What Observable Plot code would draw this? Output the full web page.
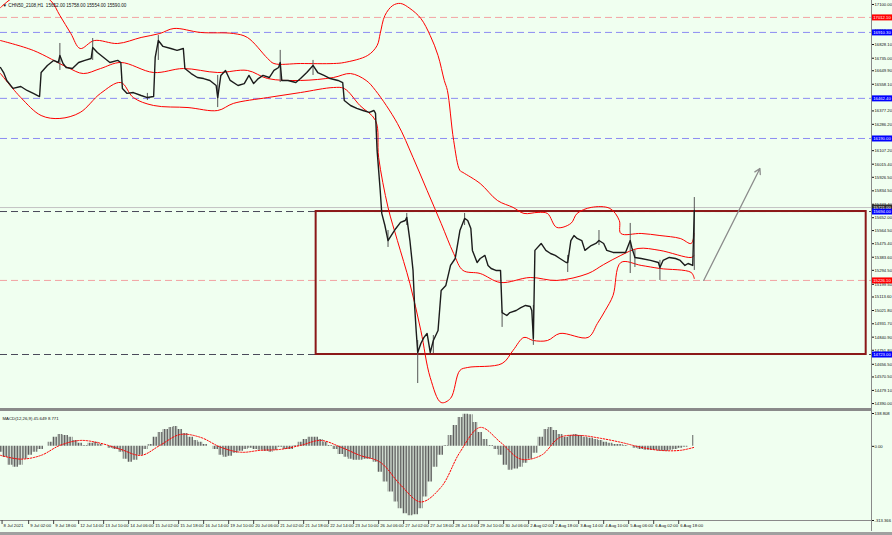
<!DOCTYPE html>
<html><head><meta charset="utf-8">
<script src="https://cdn.jsdelivr.net/npm/d3@7"></script>
<script src="https://cdn.jsdelivr.net/npm/@observablehq/plot@0.6"></script>
<style>
html,body{margin:0;padding:0;background:#f0fff0;}
#chart{position:relative;width:892px;height:535px;overflow:hidden;background:#f0fff0;font-family:"Liberation Sans",Arial,sans-serif;}
#chart svg{position:absolute;left:0;}
.vline{position:absolute;left:871px;top:0;width:1px;height:531px;background:#8a8a8a;}
.sep{position:absolute;left:0;top:408px;width:872px;height:3px;background:#8a8a8a;}
.bottomline{position:absolute;left:0;top:532px;width:892px;height:3px;background:#a0a0a0;}
</style></head><body><div id="chart"><div class="vline"></div><div class="sep"></div><div class="bottomline"></div></div>
<script>
// ---------- data ----------
const symbolTitle = "\u25BC CHN50_2108,H1  15652.00 15758.00 15554.00 15590.00";
const macdTitle = "MACD(12,26,9) 45.649 8.771";

const priceBar = [0,2,4,8,13,17,21,25,26,30,34,37,38,40,42,46,50,54,58,59,62,66,70,75,77,78,81,85,90,94,98,99,101,104,109,113,117,118,122,126,130,134,138,139,141,144,147,152,156,159,162,165,168,172,175,178,179,180,184,189,192,196,200,203,207,211,216,219,220,224,228,232,236,239,240,241,243,244,246,248,250,253,256,259,260,262,264,265,266,267,269,271,273,275,277,280,282,285,288,291,294,297,299,301,302,305,307,310,312,314,317,320,321,324,326,330,333,336,339,340,341,342,346,349,352,355,358,362,363,365,367,369,372,374,378,381,383,386,388,392,396,400,403,404,406,410,416,421,422,424,428,432,435,438,440,443,444];
const priceClose = [16672,16638,16584,16530,16543,16516,16496,16475,16638,16686,16720,16706,16754,16699,16672,16665,16706,16720,16733,16808,16774,16740,16706,16720,16706,16530,16496,16502,16482,16468,16475,16740,16855,16815,16801,16788,16801,16665,16631,16604,16597,16584,16550,16468,16618,16652,16584,16550,16563,16618,16563,16597,16618,16604,16652,16672,16706,16584,16584,16570,16597,16638,16686,16638,16618,16597,16584,16570,16448,16414,16394,16380,16367,16380,16360,16109,15837,15681,15599,15497,15531,15579,15620,15633,15654,15497,15294,15056,14886,14737,14798,14839,14866,14737,14818,14886,15158,15192,15328,15375,15565,15647,15633,15579,15430,15348,15375,15396,15328,15307,15294,15294,15008,14988,15008,15022,15042,15056,15049,15022,14832,15430,15477,15430,15409,15396,15375,15348,15348,15497,15531,15511,15497,15430,15463,15477,15497,15477,15430,15416,15416,15416,15497,15450,15382,15375,15362,15348,15314,15362,15382,15375,15362,15328,15341,15328,15701];

const wickBar  = [38,59,94,101,139,179,200,248,260,267,277,297,321,341,363,383,403,406,422,444];
const wickHigh = [16835,16869,16496,16889,16618,16788,16720,15565,15681,14818,14852,15681,15022,15056,15396,15565,15613,15430,15362,15789];
const wickLow  = [16652,16720,16448,16720,16400,16570,16618,15450,15599,14526,14730,15599,14907,14785,15280,15463,15273,15314,15226,15294];

const upperBar  = [0,8,19,32,38,45,51,60,75,90,102,111,128,149,158,171,175,192,213,220,235,241,243,246,251,256,262,269,275,280,284,286,290,294,296,307,318,328,335,344,350,356,365,369,378,390,396,397,410,422,435,442,444];
const upperBand = [17079,17147,17195,17127,17025,16903,16801,16855,16835,16876,16903,16937,16910,16903,16876,16733,16699,16699,16699,16706,16754,16821,16903,17025,17093,17107,17073,17005,16889,16754,16584,16516,16176,15973,15959,15884,15769,15722,15681,15688,15681,15586,15613,15681,15722,15715,15633,15545,15545,15531,15511,15477,15545];
const middleBar  = [0,21,43,53,64,77,98,117,139,158,171,192,213,224,234,240,254,264,273,282,290,296,307,320,339,356,376,386,397,408,422,442,444];
const middleBand = [16855,16788,16672,16631,16665,16706,16638,16665,16638,16652,16597,16584,16604,16631,16584,16516,16292,16061,15837,15613,15409,15294,15273,15212,15246,15226,15273,15334,15396,15443,15430,15382,15396];
const lowerBar  = [0,13,26,38,51,64,77,85,98,120,139,149,171,192,213,220,230,240,242,248,254,262,269,275,282,288,294,299,321,328,335,341,350,358,376,382,387,392,397,410,422,442,444];
const lowerBand = [16631,16468,16346,16326,16367,16496,16570,16468,16414,16400,16380,16428,16468,16502,16536,16529,16414,16312,16061,15722,15497,15205,14886,14567,14397,14425,14615,14635,14662,14751,14839,14818,14818,14866,14839,14934,15022,15124,15348,15328,15307,15280,15239];

const priceTicks = [17100.00,17009.50,16919.00,16828.10,16735.00,16649.90,16558.10,16466.50,16377.20,16286.20,16196.30,16107.20,16015.40,15926.50,15834.50,15743.40,15652.00,15564.50,15475.40,15383.60,15294.50,15199.50,15113.60,15021.80,14931.70,14840.90,14751.80,14656.50,14570.50,14479.10,14390.00];

const redLevels  = [17012.1, 15226.1];
const blueLevels = [16910.3, 16462.4, 16190.0];
const zoneLevels = [15694.0, 14723.0];
const bidPrice   = 15721.0;
const labelPrices = [17012.1, 16910.3, 16462.4, 16190.0, 15721.0, 15694.0, 15226.1, 14723.0];
const labelKinds  = ["red","blue","blue","blue","bid","blue","red","blue"];

const zoneFromBar = 202, zoneToBar = 554, zoneLow = 14723.0, zoneHigh = 15694.0;
const arrowBars = [450, 486];
const arrowPrices = [15226, 15986];

const macdBar = [0,3,6,10,13,16,19,22,26,29,32,35,38,42,45,48,51,54,58,61,64,67,70,74,77,80,83,86,90,93,96,99,102,106,109,112,115,118,122,125,128,131,134,138,141,144,147,150,154,157,160,163,166,170,173,176,179,182,186,189,192,195,198,202,205,208,211,214,218,221,224,227,230,234,237,240,243,246,250,253,256,259,262,266,269,272,275,278,282,285,288,291,294,298,301,304,307,310,314,317,320,323,326,330,333,336,339,342,346,349,352,355,358,362,365,368,371,374,378,381,384,387,390,394,397,400,403,406,410,413,416,419,422,426,429,432,435,438,442,444];
const macdHist = [-25,-46,-80,-88,-80,-54,-38,-25,-13,0,
17,38,50,46,38,25,13,4,13,17,
8,0,-8,-13,-25,-54,-67,-59,-38,-13,
8,38,59,71,80,84,71,54,38,25,
17,8,0,-13,-38,-46,-42,-29,-21,-13,
-8,-13,-17,-21,-25,-17,-4,-13,-13,4,
17,29,38,38,29,17,4,-13,-34,-46,
-54,-59,-59,-54,-54,-67,-109,-151,-193,-235,
-264,-285,-293,-289,-264,-214,-151,-88,-38,4,
46,88,122,136,134,101,59,29,4,-13,
-38,-80,-101,-96,-88,-71,-54,-29,38,71,
80,67,50,38,46,50,46,38,34,29,
25,17,13,8,8,4,0,-8,-13,-17,
-17,-17,-21,-21,-17,-13,-8,-4,0,46];
const signalBar = [0,13,26,38,51,64,77,90,102,115,128,141,154,166,179,192,205,218,230,243,256,269,282,294,307,320,333,346,358,371,384,397,410,422,435,444];
const signalValue = [-38,-54,-38,4,25,13,-13,-38,4,50,38,-4,-25,-17,-13,4,25,-4,-38,-67,-163,-235,-172,-25,80,17,-54,-38,38,46,34,17,-4,-17,-17,-4];
const macdTicks = [138.808, 0, -313.366];
const macdTickText = ["138.808", "0.00", "-313.366"];

const dateBar = [1,18,34,50,66,82,98,114,130,146,162,178,194,210,226,242,258,274,290,306,322,338,354,370,386,402,418,434];
const dateLabel = ["8 Jul 2021","9 Jul 02:00","9 Jul 18:00","12 Jul 14:00","13 Jul 10:00","14 Jul 06:00","15 Jul 02:00","15 Jul 18:00","16 Jul 14:00","19 Jul 10:00","20 Jul 06:00","21 Jul 02:00","21 Jul 18:00","22 Jul 14:00","23 Jul 10:00","26 Jul 06:00","27 Jul 02:00","27 Jul 18:00","28 Jul 14:00","29 Jul 10:00","30 Jul 06:00","2 Aug 02:00","2 Aug 18:00","3 Aug 14:00","4 Aug 10:00","5 Aug 06:00","6 Aug 02:00","6 Aug 18:00"];

// ---------- build tables ----------
const zip = (xs, ys) => xs.map((x, i) => ({bar: x, v: ys[i]}));
const price = zip(priceBar, priceClose);
const wicks = wickBar.map((b, i) => ({bar: b, hi: wickHigh[i], lo: wickLow[i]}));
const upper = zip(upperBar, upperBand), middle = zip(middleBar, middleBand), lower = zip(lowerBar, lowerBand);
const kindColor = {red: "#ff0000", blue: "#0000ff", bid: "#2b2b2b"};
const labels = labelPrices.map((p, i) => ({p, color: kindColor[labelKinds[i]]}));
const hist = zip(macdBar, macdHist);
const signal = zip(signalBar, signalValue);
const dates = dateBar.map((b, i) => ({bar: b, label: dateLabel[i]}));

const xDomain = [0, 557.4];
const axisEnd = xDomain[1];
const labelEnd = axisEnd + 14;
const font = "Liberation Sans, Arial, sans-serif";
const axisFont = 4.2;

const main = Plot.plot({
  width: 892, height: 411, marginTop: 0, marginBottom: 0, marginLeft: 0, marginRight: 21,
  x: {domain: xDomain, axis: null},
  y: {domain: [14336, 17127], axis: null},
  style: {background: "transparent", fontFamily: font, fontSize: axisFont + "px", color: "#111", overflow: "visible"},
  marks: [
    Plot.ruleY(redLevels, {stroke: "#f3a3a3", strokeWidth: 1, strokeDasharray: "7,4"}),
    Plot.ruleY(blueLevels, {stroke: "#8c8cf2", strokeWidth: 1, strokeDasharray: "7,4"}),
    Plot.ruleY(zoneLevels, {stroke: "#4a4a5a", strokeWidth: 1, strokeDasharray: "7,4"}),
    Plot.ruleY([bidPrice], {stroke: "#c4c4c4", strokeWidth: 1}),
    Plot.rect([{}], {x1: () => zoneFromBar, x2: () => zoneToBar, y1: () => zoneLow, y2: () => zoneHigh, fill: "none", stroke: "#8b1818", strokeWidth: 2}),
    Plot.line(upper, {x: "bar", y: "v", stroke: "#ff0000", strokeWidth: 1, curve: "catmull-rom", clip: true}),
    Plot.line(middle, {x: "bar", y: "v", stroke: "#ff0000", strokeWidth: 1, curve: "catmull-rom", clip: true}),
    Plot.line(lower, {x: "bar", y: "v", stroke: "#ff0000", strokeWidth: 1, curve: "catmull-rom", clip: true}),
    Plot.ruleX(wicks, {x: "bar", y1: "lo", y2: "hi", stroke: "#555", strokeWidth: 1}),
    Plot.line(price, {x: "bar", y: "v", stroke: "#1c1c1c", strokeWidth: 1.4}),
    Plot.arrow([{}], {x1: () => arrowBars[0], y1: () => arrowPrices[0], x2: () => arrowBars[1], y2: () => arrowPrices[1], stroke: "#8c8c8c", strokeWidth: 1.3, headLength: 7}),
    Plot.axisY({anchor: "right", ticks: priceTicks, tickFormat: d => d.toFixed(2), tickSize: 2, tickPadding: 1, fontSize: axisFont, label: null}),
    Plot.ruleY(labels, {y: "p", x1: () => axisEnd + 0.5, x2: () => labelEnd, stroke: "color", strokeWidth: 6}),
    Plot.text(labels, {y: "p", x: () => axisEnd + 0.5, dx: 1, text: d => d.p.toFixed(2), fill: "white", textAnchor: "start", fontSize: axisFont}),
    Plot.text([symbolTitle], {frameAnchor: "top-left", dx: 2, dy: 3, textAnchor: "start", fontSize: 4.6, fill: "#111"})
  ]
});
main.style.top = "0px";

const macd = Plot.plot({
  width: 892, height: 124, marginTop: 3, marginBottom: 14, marginLeft: 0, marginRight: 21,
  x: {domain: xDomain, axis: null},
  y: {domain: [-313.366, 138.808], axis: null},
  style: {background: "transparent", fontFamily: font, fontSize: axisFont + "px", color: "#111", overflow: "visible"},
  marks: [
    Plot.areaY(hist, {x: "bar", y: "v", fill: "url(#macdHatch)", curve: "step"}),
    Plot.line(signal, {x: "bar", y: "v", stroke: "#ff0000", strokeWidth: 1, strokeDasharray: "1.5,1.5", curve: "catmull-rom"}),
    Plot.ruleY([macdTicks[2]], {stroke: "#8a8a8a", strokeWidth: 1}),
    Plot.axisY({anchor: "right", ticks: macdTicks, tickFormat: d => macdTickText[macdTicks.indexOf(d)], tickSize: 2, tickPadding: 1, fontSize: axisFont, label: null}),
    Plot.axisX(dateBar, {anchor: "bottom", tickSize: 4, tickFormat: () => "", stroke: "#444", label: null}),
    Plot.text(dates, {x: "bar", text: "label", frameAnchor: "bottom", dy: 6, dx: 1.5, textAnchor: "start", fontSize: 4.3, fill: "#111"}),
    Plot.text([macdTitle], {frameAnchor: "top-left", dx: 2, dy: 3, textAnchor: "start", fontSize: 4.3, fill: "#111"})
  ]
});
macd.style.top = "410px";

// stripe pattern for the histogram
const NS = "http://www.w3.org/2000/svg";
const defs = document.createElementNS(NS, "defs");
const pat = document.createElementNS(NS, "pattern");
pat.setAttribute("id", "macdHatch");
pat.setAttribute("patternUnits", "userSpaceOnUse");
pat.setAttribute("width", "1.5625");
pat.setAttribute("height", "10");
const r = document.createElementNS(NS, "rect");
r.setAttribute("x", "0"); r.setAttribute("y", "0");
r.setAttribute("width", "0.9"); r.setAttribute("height", "10");
r.setAttribute("fill", "#5a5a5a");
pat.appendChild(r); defs.appendChild(pat);
macd.insertBefore(defs, macd.firstChild);

const chart = document.getElementById("chart");
chart.insertBefore(macd, chart.firstChild);
chart.insertBefore(main, chart.firstChild);
</script></body></html>
